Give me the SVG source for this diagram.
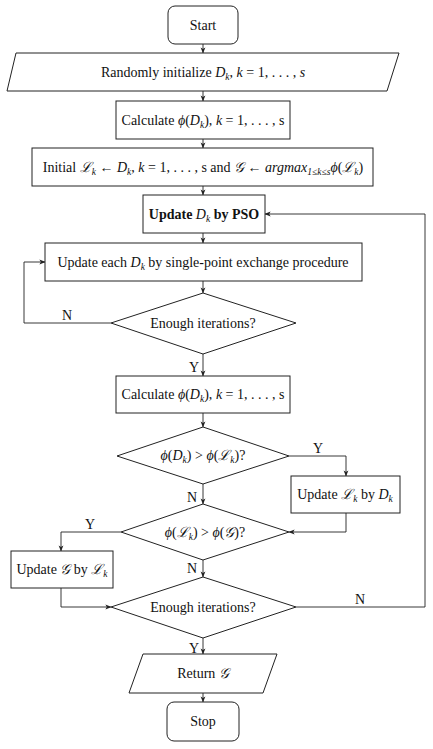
<svg xmlns="http://www.w3.org/2000/svg" width="433" height="749" viewBox="0 0 433 749">
<style>
text{font-family:"Liberation Serif","DejaVu Serif",serif;font-size:14px;fill:#111;text-anchor:middle}
.i{font-style:italic}
.b{font-weight:bold}
.sub{font-size:9.5px;font-style:italic}
.shape{fill:#fff;stroke:#222;stroke-width:1}
.c{fill:none;stroke:#222;stroke-width:0.9;marker-end:url(#a)}
</style>
<defs>
<marker id="a" viewBox="0 0 8 8" refX="7.5" refY="4" markerWidth="6" markerHeight="6" orient="auto" markerUnits="userSpaceOnUse">
<path d="M0,0.8 L8,4 L0,7.2 L2,4 Z" fill="#222"/>
</marker>
</defs>
<rect width="433" height="749" fill="#fff"/>
<g id="connectors">
<path class="c" d="M203,44 V53"/>
<path class="c" d="M203,91 V101"/>
<path class="c" d="M203,139 V148"/>
<path class="c" d="M203,186 V195"/>
<path class="c" d="M203,233 V243"/>
<path class="c" d="M203,281 V293"/>
<path class="c" d="M111,323 H24 V262 H45"/>
<path class="c" d="M203,354 V376"/>
<path class="c" d="M203,413 V427"/>
<path class="c" d="M289,456 H346 V476"/>
<path class="c" d="M346,513 V532 H289"/>
<path class="c" d="M203,484 V504"/>
<path class="c" d="M121,532 H61 V551"/>
<path class="c" d="M61,588 V607 H111"/>
<path class="c" d="M203,560 V577"/>
<path class="c" d="M296,607 H425 V214 H265"/>
<path class="c" d="M203,638 V654"/>
<path class="c" d="M203,693 V702"/>
<text x="67" y="320">N</text>
<text x="194" y="372">Y</text>
<text x="318" y="453">Y</text>
<text x="192" y="502">N</text>
<text x="90" y="529">Y</text>
<text x="192" y="573">N</text>
<text x="360" y="604">N</text>
<text x="194" y="653">Y</text>
</g>
<g id="start">
<rect class="shape" x="168" y="6" width="70" height="38" rx="7"/>
<text x="203" y="30">Start</text>
</g>
<g id="init">
<polygon class="shape" points="16,53 399,53 387,91 7,91"/>
<text x="203" y="77">Randomly initialize <tspan class="i">D</tspan><tspan class="sub" dy="3">k</tspan><tspan dy="-3">, </tspan><tspan class="i">k</tspan> = 1, . . . , <tspan class="i">s</tspan></text>
</g>
<g id="calc1">
<rect class="shape" x="116" y="101" width="174" height="38"/>
<text x="203" y="125">Calculate <tspan class="i">ϕ</tspan>(<tspan class="i">D</tspan><tspan class="sub" dy="3">k</tspan><tspan dy="-3">), </tspan><tspan class="i">k</tspan> = 1, . . . , s</text>
</g>
<g id="initial">
<rect class="shape" x="32" y="148" width="341" height="38"/>
<text x="203" y="172">Initial <tspan class="i">ℒ</tspan><tspan class="sub" dy="3">k</tspan><tspan dy="-3"> ← </tspan><tspan class="i">D</tspan><tspan class="sub" dy="3">k</tspan><tspan dy="-3">, </tspan><tspan class="i">k</tspan> = 1, . . . , s and <tspan class="i">𝒢</tspan> ← <tspan class="i">argmax</tspan><tspan class="sub" dy="3">1≤k≤s</tspan><tspan class="i" dy="-3">ϕ</tspan>(<tspan class="i">ℒ</tspan><tspan class="sub" dy="3">k</tspan><tspan dy="-3">)</tspan></text>
</g>
<g id="pso">
<rect class="shape" x="143" y="195" width="122" height="38"/>
<text x="204" y="219"><tspan class="b">Update </tspan><tspan class="i">D</tspan><tspan class="sub" dy="3">k</tspan><tspan class="b" dy="-3"> by PSO</tspan></text>
</g>
<g id="exchange">
<rect class="shape" x="45" y="243" width="317" height="38"/>
<text x="203" y="267">Update each <tspan class="i">D</tspan><tspan class="sub" dy="3">k</tspan><tspan dy="-3"> by single-point exchange procedure</tspan></text>
</g>
<g id="check1">
<polygon class="shape" points="203,293 296,323 203,354 111,323"/>
<text x="203" y="328">Enough iterations?</text>
</g>
<g id="calc2">
<rect class="shape" x="116" y="376" width="174" height="37"/>
<text x="203" y="399">Calculate <tspan class="i">ϕ</tspan>(<tspan class="i">D</tspan><tspan class="sub" dy="3">k</tspan><tspan dy="-3">), </tspan><tspan class="i">k</tspan> = 1, . . . , s</text>
</g>
<g id="cmpL">
<polygon class="shape" points="203,427 289,456 203,484 117,456"/>
<text x="203" y="460"><tspan class="i">ϕ</tspan>(<tspan class="i">D</tspan><tspan class="sub" dy="3">k</tspan><tspan dy="-3">) &gt; </tspan><tspan class="i">ϕ</tspan>(<tspan class="i">ℒ</tspan><tspan class="sub" dy="3">k</tspan><tspan dy="-3">)?</tspan></text>
</g>
<g id="updL">
<rect class="shape" x="291" y="476" width="109" height="37"/>
<text x="345" y="499">Update <tspan class="i">ℒ</tspan><tspan class="sub" dy="3">k</tspan><tspan dy="-3"> by </tspan><tspan class="i">D</tspan><tspan class="sub" dy="3">k</tspan></text>
</g>
<g id="cmpG">
<polygon class="shape" points="203,504 289,532 203,560 121,532"/>
<text x="205" y="537"><tspan class="i">ϕ</tspan>(<tspan class="i">ℒ</tspan><tspan class="sub" dy="3">k</tspan><tspan dy="-3">) &gt; </tspan><tspan class="i">ϕ</tspan>(<tspan class="i">𝒢</tspan>)?</text>
</g>
<g id="updG">
<rect class="shape" x="11" y="551" width="102" height="37"/>
<text x="62" y="574">Update <tspan class="i">𝒢</tspan> by <tspan class="i">ℒ</tspan><tspan class="sub" dy="3">k</tspan></text>
</g>
<g id="check2">
<polygon class="shape" points="203,577 296,607 203,638 111,607"/>
<text x="203" y="612">Enough iterations?</text>
</g>
<g id="return">
<polygon class="shape" points="143,654 277,654 263,693 129,693"/>
<text x="203" y="678">Return <tspan class="i">𝒢</tspan></text>
</g>
<g id="stop">
<rect class="shape" x="167" y="702" width="72" height="39" rx="7"/>
<text x="203" y="726">Stop</text>
</g>
</svg>
